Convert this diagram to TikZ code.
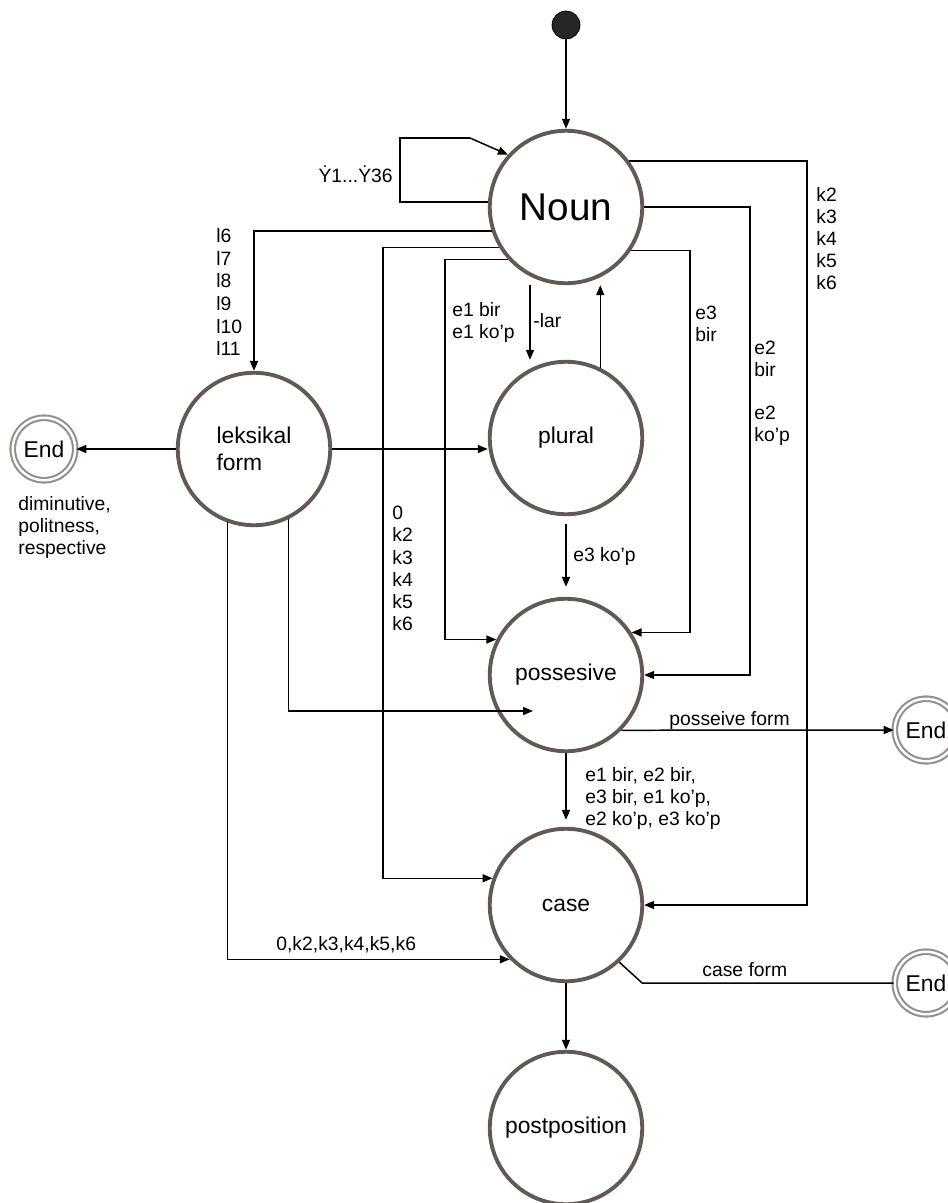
\documentclass[tikz,border=0pt]{standalone}
\usepackage{fontspec}
\setmainfont{Liberation Sans}
\usetikzlibrary{arrows.meta}
\definecolor{ringcol}{RGB}{98,88,84}
\definecolor{endcol}{RGB}{150,142,138}
\tikzset{
  stnode/.style={circle, draw=ringcol, line width=2.2pt, minimum size=3.05cm, inner sep=0pt, align=left, font=\fontsize{13}{15}\selectfont},
  endnode/.style={circle, draw=endcol, double=white, double distance=1.4pt, line width=1.2pt, minimum size=1.25cm, inner sep=0pt, font=\fontsize{13}{15}\selectfont},
  startdot/.style={circle, fill=black!85, draw=black, minimum size=0.56cm, inner sep=0pt},
  link/.style={line width=0.85pt, -{Triangle[length=2mm,width=1.6mm]}},
  wire/.style={line width=0.85pt},
  lbl/.style={font=\fontsize{11}{12.6}\selectfont, align=left, inner sep=0pt},
}
\begin{document}
\begin{tikzpicture}[x=0.02cm, y=-0.02cm]
\useasboundingbox (0,0) rectangle (947,1203);

% states
\node[startdot] (start) at (566,25) {};
\node[stnode, font=\fontsize{22}{26}\selectfont] (noun) at (566,207) {Noun};
\node[stnode] (leks) at (254,449) {leksikal\\form};
\node[stnode] (plural) at (566,438) {plural};
\node[stnode] (poss) at (566,675) {possesive};
\node[stnode] (case) at (566,905) {case};
\node[stnode] (post) at (566,1128) {postposition};
\node[endnode] (endL) at (44,449) {End};
\node[endnode] (endP) at (926,730) {End};
\node[endnode] (endC) at (926,983) {End};
\coordinate (possin) at (533,711);

% transitions
\draw[link] (start) -- (noun);
\draw[wire] (noun.west |- 0,202) -- (400,202) -- (400,138) -- (470,138);
\draw[link] (470,138) -- (noun.138);
\draw[link] (noun.198) -| (leks);
\draw[link] (noun.211) -- (noun.211 -| 383,0) |- (case.160);
\draw[link] (noun.222) -- (noun.222 -| 445,0) |- (poss.153);
\draw[link] (noun.south -| 530,0) -- (plural.north -| 530,0);
\draw[link] (plural.64) -- (plural.64 |- noun.south);
\draw[link] (noun.326) -- (noun.326 -| 690,0) |- (poss.33);
\draw[link] (noun.east) -- (noun.east -| 750,0) |- (poss.east);
\draw[link] (noun.36) -- (noun.36 -| 807,0) |- (case.east);
\draw[link] (leks) -- (endL);
\draw[link] (leks.east) -- (leks.east -| plural.west);
\draw[link] (leks.296) |- (possin);
\draw[link] (leks.250) |- (case.224);
\draw[link, shorten <=1.6mm, shorten >=2mm] (plural) -- (poss);
\draw[link, shorten >=1.4mm] (poss) -- (case);
\draw[link] (poss.315) -- (endP);
\draw[wire] (case.313) -- ++(23,21) -- (endC.west);
\draw[link] (case) -- (post);

% labels
\node[lbl, anchor=east] (loopl) at (393,174) {Ẏ1...Ẏ36};
\node[lbl, anchor=north west, font=\fontsize{11}{12.9}\selectfont] (lexl) at (216,228) {l6\\l7\\l8\\l9\\l10\\l11};
\node[lbl, anchor=north west] (casel) at (392,506) {0\\k2\\k3\\k4\\k5\\k6};
\node[lbl, anchor=north west] (e1l) at (452,302) {e1 bir\\e1 ko’p};
\node[lbl, anchor=north west] (larl) at (533,313) {-lar};
\node[lbl, anchor=north west] (e3l) at (695,306) {e3\\bir};
\node[lbl, anchor=north west] (e3kl) at (573,547) {e3 ko’p};
\node[lbl, anchor=north west] (e2bl) at (754,341) {e2\\bir};
\node[lbl, anchor=north west] (e2kl) at (754,406) {e2\\ko’p};
\node[lbl, anchor=north west] (kl) at (816,187) {k2\\k3\\k4\\k5\\k6};
\node[lbl, anchor=north west] (diml) at (18,496) {diminutive,\\politness,\\respective};
\node[lbl, anchor=north west] (pfl) at (669,711) {posseive form};
\node[lbl, anchor=north west] (alll) at (585,767) {e1 bir, e2 bir,\\e3 bir, e1 ko’p,\\e2 ko’p, e3 ko’p};
\node[lbl, anchor=north west] (cfl) at (702,962) {case form};
\node[lbl, anchor=north west] (lexcl) at (276,936) {0,k2,k3,k4,k5,k6};
\end{tikzpicture}
\end{document}
